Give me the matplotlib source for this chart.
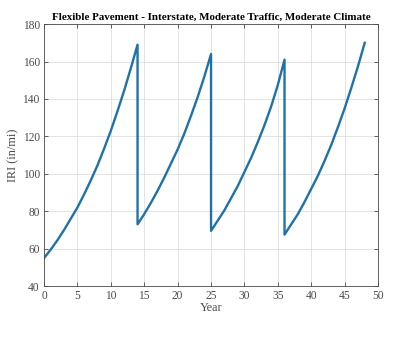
import matplotlib
matplotlib.use("Agg")
import matplotlib.pyplot as plt

# IRI history; repeated years mark rehab drops
years = [0, 1, 2, 3, 4, 5, 6, 7, 8, 9, 10, 11, 12, 13, 14,
         14, 15, 16, 17, 18, 19, 20, 21, 22, 23, 24, 25,
         25, 26, 27, 28, 29, 30, 31, 32, 33, 34, 35, 36,
         36, 37, 38, 39, 40, 41, 42, 43, 44, 45, 46, 47, 48]
iri = [55, 59.5, 64.5, 70, 76, 82, 89, 96.5, 104.5, 113.5, 123, 133.5, 144.5, 156.5, 169,
       73, 78.5, 84.5, 91, 98, 105.5, 113, 121.5, 131, 141, 152, 164,
       69.5, 75, 80.5, 87, 93.5, 101, 108.5, 117, 126, 136, 147.5, 161,
       67.5, 73, 78.5, 85, 92, 99, 107, 115.5, 125, 135, 146, 157.5, 170]

x_ticks = [0, 5, 10, 15, 20, 25, 30, 35, 40, 45, 50]
y_ticks = [40, 60, 80, 100, 120, 140, 160, 180]

plt.rcParams["font.family"] = ["Liberation Serif", "DejaVu Serif"]

fig = plt.figure(figsize=(3.93, 3.39), dpi=100)
ax = fig.add_axes([0.112, 0.156, 0.850, 0.773])

ax.plot(years, iri, color="#1f72a8", linewidth=1.7)

ax.set_xlim(0, 50)
ax.set_ylim(40, 180)
ax.set_xticks(x_ticks)
ax.set_yticks(y_ticks)
ax.grid(True, color="#dedede", linewidth=0.6)
ax.tick_params(direction="in", length=3, width=0.6, labelsize=8.3,
               colors="#4a4a4a", top=True, right=True, pad=3)
for side in ax.spines.values():
    side.set_color("#4a4a4a")
    side.set_linewidth(0.6)

ax.set_title("Flexible Pavement - Interstate, Moderate Traffic, Moderate Climate",
             fontsize=7.9, fontweight="bold", pad=3)
ax.set_xlabel("Year", fontsize=8.8, color="#4a4a4a", labelpad=0)
ax.set_ylabel("IRI (in/mi)", fontsize=8.8, color="#4a4a4a", labelpad=2)

fig.savefig("out.png", dpi=100)
